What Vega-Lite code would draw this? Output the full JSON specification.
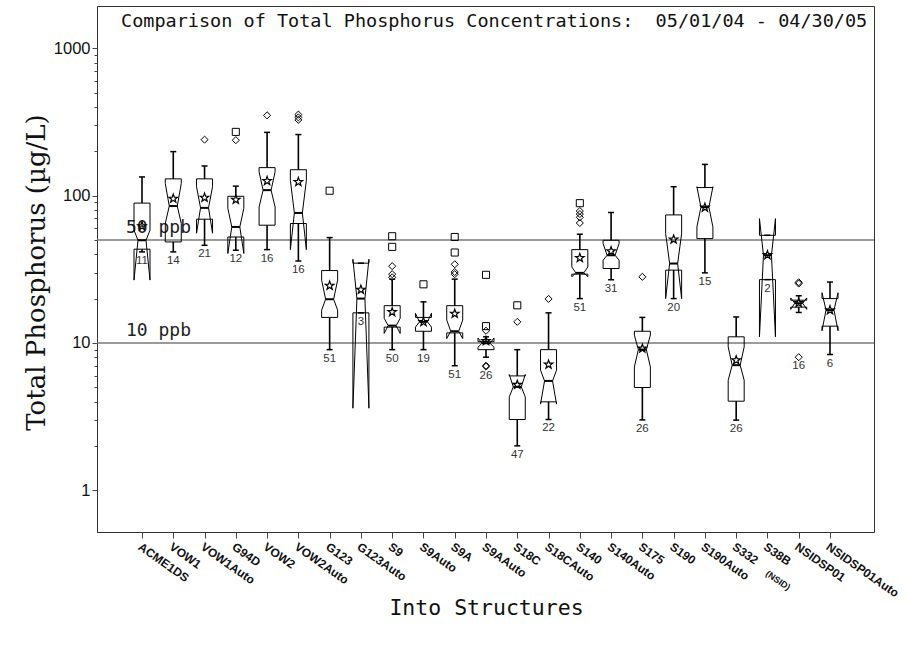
{
  "$schema": "https://vega.github.io/schema/vega-lite/v6.json",
  "width": 777,
  "height": 526,
  "autosize": {"type": "none"},
  "padding": {"left": 97, "top": 6, "right": 32, "bottom": 120},
  "background": "white",
  "datasets": {
    "heading": [
      {"text": "Comparison of Total Phosphorus Concentrations: \u00a005/01/04 - 04/30/05"}
    ],
    "notes": [
      {"site": "S38B (NSID)", "note": "(NSID)"}
    ],
    "refs": [
      {"label": "50 ppb", "level": 50},
      {"label": "10 ppb", "level": 10}
    ],
    "stats": [
      {"site": "ACME1DS", "n": 11, "wLow": 41.5, "q1": 43.3, "nLow": 26.7, "med": 49.8, "nHigh": 58.2, "q3": 89, "wHigh": 134, "mean": 62},
      {"site": "VOW1", "n": 14, "wLow": 41.5, "q1": 48.5, "nLow": 64.7, "med": 85, "nHigh": 121, "q3": 130, "wHigh": 199, "mean": 95.5},
      {"site": "VOW1Auto", "n": 21, "wLow": 46, "q1": 69.2, "nLow": 55.6, "med": 82.6, "nHigh": 115, "q3": 130, "wHigh": 159, "mean": 97},
      {"site": "G94D", "n": 12, "wLow": 42.6, "q1": 52.4, "nLow": 40.5, "med": 61.3, "nHigh": 82, "q3": 99, "wHigh": 116, "mean": 94},
      {"site": "VOW2", "n": 16, "wLow": 43, "q1": 63, "nLow": 83.8, "med": 109, "nHigh": 145, "q3": 155, "wHigh": 269, "mean": 126},
      {"site": "VOW2Auto", "n": 16, "wLow": 36, "q1": 64.7, "nLow": 43, "med": 76.3, "nHigh": 127, "q3": 150, "wHigh": 260, "mean": 124},
      {"site": "G123", "n": 51, "wLow": 9.0, "q1": 14.9, "nLow": 16.7, "med": 19.8, "nHigh": 26.7, "q3": 31, "wHigh": 51.9, "mean": 24.5},
      {"site": "G123Auto", "n": 3, "wLow": 16, "q1": 16, "nLow": 3.6, "med": 20, "nHigh": 37, "q3": 34.8, "wHigh": 34.8, "mean": 23},
      {"site": "S9", "n": 50, "wLow": 9.0, "q1": 12.8, "nLow": 11.6, "med": 13.1, "nHigh": 14.7, "q3": 17.9, "wHigh": 27.1, "mean": 16.2},
      {"site": "S9Auto", "n": 19, "wLow": 9.0, "q1": 12.0, "nLow": 12.8, "med": 13.9, "nHigh": 15.9, "q3": 14.9, "wHigh": 19.0, "mean": 13.9},
      {"site": "S9A", "n": 51, "wLow": 7.0, "q1": 11.7, "nLow": 10.7, "med": 12.0, "nHigh": 14.3, "q3": 17.9, "wHigh": 27.1, "mean": 15.8},
      {"site": "S9AAuto", "n": 26, "wLow": 8.0, "q1": 9.0, "nLow": 9.35, "med": 9.95, "nHigh": 10.8, "q3": 10.2, "wHigh": 11.0, "mean": 10.3, "lowOut": 6.9},
      {"site": "S18C", "n": 47, "wLow": 2.0, "q1": 3.02, "nLow": 4.3, "med": 5.03, "nHigh": 6.1, "q3": 5.97, "wHigh": 9.0, "mean": 5.2},
      {"site": "S18CAuto", "n": 22, "wLow": 3.02, "q1": 3.98, "nLow": 3.84, "med": 5.52, "nHigh": 6.53, "q3": 9.0, "wHigh": 16.0, "mean": 7.13},
      {"site": "S140", "n": 51, "wLow": 20.0, "q1": 29.3, "nLow": 28.1, "med": 29.9, "nHigh": 32.8, "q3": 43.0, "wHigh": 54.7, "mean": 37.8},
      {"site": "S140Auto", "n": 31, "wLow": 26.9, "q1": 32.0, "nLow": 36.4, "med": 39.4, "nHigh": 47.3, "q3": 49.8, "wHigh": 76.8, "mean": 42},
      {"site": "S175", "n": 26, "wLow": 3.0, "q1": 4.98, "nLow": 6.87, "med": 9.0, "nHigh": 11.3, "q3": 12.0, "wHigh": 14.9, "mean": 9.16},
      {"site": "S190", "n": 20, "wLow": 20.0, "q1": 31.2, "nLow": 20.0, "med": 34.6, "nHigh": 55.3, "q3": 74, "wHigh": 115, "mean": 50.4},
      {"site": "S190Auto", "n": 15, "wLow": 29.9, "q1": 51.1, "nLow": 61.3, "med": 83.5, "nHigh": 115, "q3": 113.5, "wHigh": 163, "mean": 83},
      {"site": "S332", "n": 26, "wLow": 2.99, "q1": 4.02, "nLow": 5.58, "med": 7.06, "nHigh": 9.4, "q3": 11.0, "wHigh": 15.0, "mean": 7.63},
      {"site": "S38B (NSID)", "n": 2, "wLow": 26.9, "q1": 26.9, "nLow": 11.0, "med": 39.4, "nHigh": 69.8, "q3": 53.8, "wHigh": 53.8, "mean": 39.5},
      {"site": "NSIDSP01", "n": 16, "wLow": 16.1, "q1": 17.5, "nLow": 16.9, "med": 18.6, "nHigh": 20.2, "q3": 19.5, "wHigh": 20.9, "mean": 18.7, "lowOut": 8.0},
      {"site": "NSIDSP01Auto", "n": 6, "wLow": 8.34, "q1": 13.0, "nLow": 12.1, "med": 16.7, "nHigh": 21.9, "q3": 20.0, "wHigh": 25.9, "mean": 16.7}
    ],
    "outliers": [
      {"site": "VOW1Auto", "value": 240, "kind": "diamond"},
      {"site": "G94D", "value": 271, "kind": "square"},
      {"site": "G94D", "value": 238, "kind": "diamond"},
      {"site": "VOW2", "value": 351, "kind": "diamond"},
      {"site": "VOW2Auto", "value": 355, "kind": "diamond"},
      {"site": "VOW2Auto", "value": 340, "kind": "diamond"},
      {"site": "VOW2Auto", "value": 327, "kind": "diamond"},
      {"site": "G123", "value": 108, "kind": "square"},
      {"site": "S9", "value": 53, "kind": "square"},
      {"site": "S9", "value": 44.9, "kind": "square"},
      {"site": "S9", "value": 33.2, "kind": "diamond"},
      {"site": "S9", "value": 29.3, "kind": "diamond"},
      {"site": "S9", "value": 27.9, "kind": "diamond"},
      {"site": "S9Auto", "value": 25.0, "kind": "square"},
      {"site": "S9A", "value": 52.4, "kind": "square"},
      {"site": "S9A", "value": 41.1, "kind": "square"},
      {"site": "S9A", "value": 34.2, "kind": "diamond"},
      {"site": "S9A", "value": 30.3, "kind": "diamond"},
      {"site": "S9A", "value": 29.3, "kind": "diamond"},
      {"site": "S9AAuto", "value": 29.0, "kind": "square"},
      {"site": "S9AAuto", "value": 13.0, "kind": "square"},
      {"site": "S9AAuto", "value": 12.1, "kind": "diamond"},
      {"site": "S9AAuto", "value": 7.0, "kind": "diamond"},
      {"site": "S9AAuto", "value": 6.9, "kind": "diamond"},
      {"site": "S18C", "value": 18.0, "kind": "square"},
      {"site": "S18C", "value": 13.9, "kind": "diamond"},
      {"site": "S18CAuto", "value": 19.9, "kind": "diamond"},
      {"site": "S140", "value": 88.9, "kind": "square"},
      {"site": "S140", "value": 78.6, "kind": "diamond"},
      {"site": "S140", "value": 75, "kind": "diamond"},
      {"site": "S140", "value": 71.3, "kind": "diamond"},
      {"site": "S140", "value": 65.2, "kind": "diamond"},
      {"site": "S175", "value": 28.1, "kind": "diamond"},
      {"site": "NSIDSP01", "value": 25.8, "kind": "diamond"},
      {"site": "NSIDSP01", "value": 25.3, "kind": "diamond"},
      {"site": "NSIDSP01", "value": 8.0, "kind": "diamond"}
    ]
  },
  "layer": [
    {
      "data": {"name": "refs"},
      "mark": {"type": "rule", "color": "#7a7a7a", "strokeWidth": 1.5},
      "encoding": {
        "y": {
          "field": "level", "type": "quantitative",
          "scale": {"type": "log", "domain": [0.52, 1940], "nice": false},
          "title": "Total Phosphorus (µg/L)",
          "axis": {
            "values": [1,2,3,4,5,6,7,8,9,10,20,30,40,50,60,70,80,90,100,200,300,400,500,600,700,800,900,1000],
            "labelExpr": "indexof([1,10,100,1000], datum.value) >= 0 ? format(datum.value, 'd') : ''",
            "tickSize": {"condition": {"test": "indexof([1,10,100,1000], datum.value) >= 0", "value": 5}, "value": 3},
            "labelOverlap": false, "labelBound": false,
            "labelFont": "Liberation Sans", "labelFontSize": 16.5, "labelColor": "#111", "labelPadding": 2,
            "tickColor": "#444", "domainColor": "#333", "grid": false,
            "titleFont": "DejaVu Serif", "titleFontSize": 26, "titleFontWeight": "normal", "titleColor": "#111",
            "titleX": -53, "titleY": 266, "titleBaseline": "alphabetic", "titleAlign": "center", "titleAngle": 270
          }
        }
      }
    },
    {
      "data": {"name": "refs"},
      "mark": {"type": "text", "align": "left", "baseline": "alphabetic", "dx": -16, "dy": -7, "font": "DejaVu Sans Mono", "fontSize": 18, "color": "#222"},
      "encoding": {
        "x": {"datum": "ACME1DS", "type": "nominal"},
        "y": {"field": "level", "type": "quantitative"},
        "text": {"field": "label"}
      }
    },
    {
      "data": {"name": "heading"},
      "mark": {"type": "text", "align": "left", "baseline": "alphabetic", "dx": -21, "font": "DejaVu Sans Mono", "fontSize": 18.5, "color": "#111"},
      "encoding": {
        "x": {"datum": "ACME1DS", "type": "nominal"},
        "y": {"datum": 1390, "type": "quantitative"},
        "text": {"field": "text"}
      }
    },
    {
      "data": {"name": "stats"},
      "mark": {"type": "rule", "color": "black", "strokeWidth": 1.6},
      "encoding": {
        "x": {
          "field": "site", "type": "nominal",
          "scale": {"type": "point", "padding": 0, "range": [45, 733], "domain": ["ACME1DS","VOW1","VOW1Auto","G94D","VOW2","VOW2Auto","G123","G123Auto","S9","S9Auto","S9A","S9AAuto","S18C","S18CAuto","S140","S140Auto","S175","S190","S190Auto","S332","S38B (NSID)","NSIDSP01","NSIDSP01Auto"]},
          "title": "Into Structures",
          "axis": {
            "labelAngle": 35, "labelAlign": "left", "labelBaseline": "top",
            "labelFont": "Liberation Sans", "labelFontWeight": "bold", "labelFontSize": 12, "labelColor": "#111",
            "labelExpr": "split(datum.label, ' ')[0]", "labelPadding": 3, "labelOverlap": false, "labelBound": false,
            "tickSize": 6, "tickColor": "#444", "domainColor": "#333", "grid": false,
            "titleFont": "DejaVu Sans Mono", "titleFontSize": 21.5, "titleFontWeight": "normal", "titleColor": "#111",
            "titleY": 82, "titleBaseline": "alphabetic"
          }
        },
        "y": {"field": "q3", "type": "quantitative"},
        "y2": {"field": "wHigh"}
      }
    },
    {
      "data": {"name": "notes"},
      "mark": {"type": "text", "align": "left", "baseline": "top", "angle": 35, "dx": 2, "font": "Liberation Sans", "fontWeight": "bold", "fontSize": 9, "color": "#111"},
      "encoding": {
        "x": {"field": "site", "type": "nominal"},
        "y": {"datum": 0.2954, "type": "quantitative"},
        "text": {"field": "note"}
      }
    },
    {
      "data": {"name": "stats"},
      "mark": {"type": "rule", "color": "black", "strokeWidth": 1.6},
      "encoding": {
        "x": {"field": "site", "type": "nominal"},
        "y": {"field": "q1", "type": "quantitative"},
        "y2": {"field": "wLow"}
      }
    },
    {
      "data": {"name": "stats"},
      "transform": [{"fold": ["wLow", "wHigh"], "as": ["key", "val"]}],
      "mark": {"type": "tick", "color": "black", "size": 6, "thickness": 1.5, "opacity": 1},
      "encoding": {
        "x": {"field": "site", "type": "nominal"},
        "y": {"field": "val", "type": "quantitative"}
      }
    },
    {
      "data": {"name": "stats"},
      "transform": [{"fold": ["q1", "q3"], "as": ["key", "val"]}],
      "mark": {"type": "tick", "color": "black", "size": 16, "thickness": 1, "opacity": 1},
      "encoding": {
        "x": {"field": "site", "type": "nominal"},
        "y": {"field": "val", "type": "quantitative"}
      }
    },
    {
      "data": {"name": "stats"},
      "mark": {"type": "tick", "color": "black", "size": 8, "thickness": 2, "opacity": 1},
      "encoding": {
        "x": {"field": "site", "type": "nominal"},
        "y": {"field": "med", "type": "quantitative"}
      }
    },
    {
      "data": {"name": "stats"},
      "mark": {"type": "rule", "color": "black", "strokeWidth": 1, "xOffset": -8},
      "encoding": {"x": {"field": "site", "type": "nominal"}, "y": {"field": "q3", "type": "quantitative"}, "y2": {"field": "nHigh"}}
    },
    {
      "data": {"name": "stats"},
      "mark": {"type": "rule", "color": "black", "strokeWidth": 1, "xOffset": -8, "x2Offset": -4},
      "encoding": {"x": {"field": "site", "type": "nominal"}, "x2": {"field": "site"}, "y": {"field": "nHigh", "type": "quantitative"}, "y2": {"field": "med"}}
    },
    {
      "data": {"name": "stats"},
      "mark": {"type": "rule", "color": "black", "strokeWidth": 1, "xOffset": -4, "x2Offset": -8},
      "encoding": {"x": {"field": "site", "type": "nominal"}, "x2": {"field": "site"}, "y": {"field": "med", "type": "quantitative"}, "y2": {"field": "nLow"}}
    },
    {
      "data": {"name": "stats"},
      "mark": {"type": "rule", "color": "black", "strokeWidth": 1, "xOffset": -8},
      "encoding": {"x": {"field": "site", "type": "nominal"}, "y": {"field": "nLow", "type": "quantitative"}, "y2": {"field": "q1"}}
    },
    {
      "data": {"name": "stats"},
      "mark": {"type": "rule", "color": "black", "strokeWidth": 1, "xOffset": 8},
      "encoding": {"x": {"field": "site", "type": "nominal"}, "y": {"field": "q3", "type": "quantitative"}, "y2": {"field": "nHigh"}}
    },
    {
      "data": {"name": "stats"},
      "mark": {"type": "rule", "color": "black", "strokeWidth": 1, "xOffset": 8, "x2Offset": 4},
      "encoding": {"x": {"field": "site", "type": "nominal"}, "x2": {"field": "site"}, "y": {"field": "nHigh", "type": "quantitative"}, "y2": {"field": "med"}}
    },
    {
      "data": {"name": "stats"},
      "mark": {"type": "rule", "color": "black", "strokeWidth": 1, "xOffset": 4, "x2Offset": 8},
      "encoding": {"x": {"field": "site", "type": "nominal"}, "x2": {"field": "site"}, "y": {"field": "med", "type": "quantitative"}, "y2": {"field": "nLow"}}
    },
    {
      "data": {"name": "stats"},
      "mark": {"type": "rule", "color": "black", "strokeWidth": 1, "xOffset": 8},
      "encoding": {"x": {"field": "site", "type": "nominal"}, "y": {"field": "nLow", "type": "quantitative"}, "y2": {"field": "q1"}}
    },
    {
      "data": {"name": "stats"},
      "mark": {"type": "point", "shape": "M0,-1L0.235,-0.324L0.951,-0.309L0.38,0.124L0.588,0.809L0,0.4L-0.588,0.809L-0.38,0.124L-0.951,-0.309L-0.235,-0.324Z", "size": 80, "filled": false, "stroke": "black", "strokeWidth": 1.2, "opacity": 1},
      "encoding": {
        "x": {"field": "site", "type": "nominal"},
        "y": {"field": "mean", "type": "quantitative"}
      }
    },
    {
      "data": {"name": "outliers"},
      "mark": {"type": "point", "size": 50, "filled": false, "stroke": "black", "strokeWidth": 1, "opacity": 1},
      "encoding": {
        "x": {"field": "site", "type": "nominal"},
        "y": {"field": "value", "type": "quantitative"},
        "shape": {"field": "kind", "type": "nominal", "scale": {"domain": ["diamond", "square"], "range": ["diamond", "square"]}, "legend": null}
      }
    },
    {
      "data": {"name": "stats"},
      "transform": [{"calculate": "isValid(datum.lowOut) ? min(datum.wLow, datum.lowOut) : datum.wLow", "as": "lowest"}],
      "mark": {"type": "text", "baseline": "middle", "align": "center", "dy": 9, "font": "Liberation Sans", "fontSize": 11.5, "color": "#333"},
      "encoding": {
        "x": {"field": "site", "type": "nominal"},
        "y": {"field": "lowest", "type": "quantitative"},
        "text": {"field": "n"}
      }
    }
  ],
  "config": {
    "view": {"stroke": "#333", "strokeWidth": 1},
    "axis": {"grid": false},
    "axisY": {"labelFontSize": 16.5, "labelFont": "Liberation Sans"}
  }
}
